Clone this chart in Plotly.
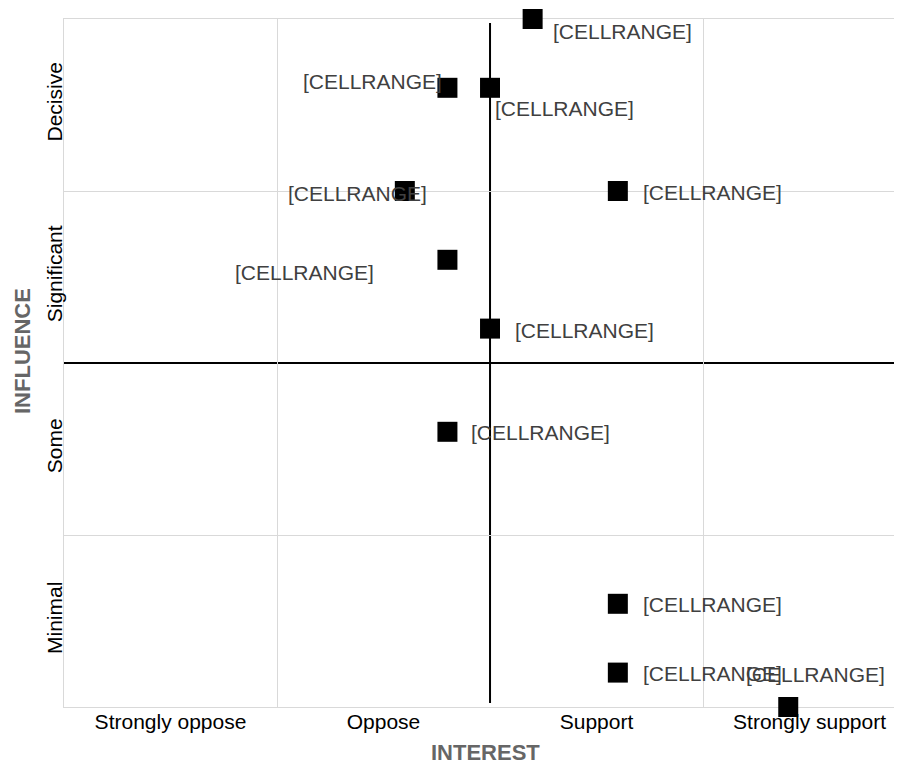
import plotly.graph_objects as go

# ---- data ----
interest_labels = ["Strongly oppose", "Oppose", "Support", "Strongly support"]
influence_labels = ["Minimal", "Some", "Significant", "Decisive"]
interest = [2.2, 1.8, 2.0, 1.6, 2.6, 1.8, 2.0, 1.8, 2.6, 2.6, 3.4]
influence = [4.0, 3.6, 3.6, 3.0, 3.0, 2.6, 2.2, 1.6, 0.6, 0.2, 0.0]
point_labels = ["[CELLRANGE]"] * 11

# ---- label placement (style): anchor, x shift px, y shift px (down positive) ----
label_place = [
    ("left", 18, 12), ("right", -3, -6), ("left", 3, 21), ("center", -47, 2),
    ("left", 23, 1), ("center", -143, 13), ("left", 23, 2), ("left", 22, 1),
    ("left", 23, 1), ("left", 23, 1), ("center", 27, -33),
]

FONT = "Arial, Liberation Sans, sans-serif"
GRID = "#d9d9d9"

fig = go.Figure()
fig.add_trace(go.Scatter(
    x=interest, y=influence, mode="markers",
    marker=dict(symbol="square", size=20, color="black", line=dict(width=0)),
    cliponaxis=False, hoverinfo="skip", showlegend=False,
))

# crossing axis lines
fig.add_shape(type="line", xref="x", yref="y", x0=2, x1=2, y0=0.023, y1=3.977,
              line=dict(color="black", width=2), layer="below")
fig.add_shape(type="line", xref="x", yref="y", x0=0, x1=4, y0=2, y1=2,
              line=dict(color="black", width=2), layer="below")

for xv, yv, txt, (anc, dx, dy) in zip(interest, influence, point_labels, label_place):
    fig.add_annotation(x=xv, y=yv, xref="x", yref="y", text=txt, showarrow=False,
                       xanchor=anc, yanchor="middle", xshift=dx, yshift=-dy,
                       font=dict(family=FONT, size=21, color="#404040"))

# axis titles
fig.add_annotation(text="<b>INTEREST</b>", xref="paper", yref="paper",
                   x=(485 - 64) / 838, y=-(752 - 707) / 688, showarrow=False,
                   xanchor="center", yanchor="middle", borderpad=0,
                   font=dict(family=FONT, size=22, color="#666666"))
fig.add_annotation(text="<b>INFLUENCE</b>", xref="paper", yref="paper",
                   x=-(64 - 22) / 838, y=(707 - 351) / 688, showarrow=False,
                   xanchor="center", yanchor="middle", textangle=-90,
                   font=dict(family=FONT, size=22, color="#666666"))

fig.update_layout(
    width=894, height=755,
    margin=dict(l=56, r=0, t=11, b=56),
    paper_bgcolor="white", plot_bgcolor="white",
    font=dict(family=FONT, size=21, color="black"),
    xaxis=dict(
        range=[0, 3.934], tickmode="array",
        tickvals=[0.5, 1.5, 2.5, 3.5], ticktext=interest_labels,
        showgrid=False, zeroline=False, ticks="",
        ticklabelstandoff=-4,
        showline=True, mirror=True, linecolor=GRID, linewidth=1,
        layer="below traces",
        minor=dict(tickmode="array", tickvals=[1, 3], showgrid=True,
                   gridcolor=GRID, gridwidth=1, ticks=""),
        tickfont=dict(family=FONT, size=21, color="black"),
        fixedrange=True,
    ),
    yaxis=dict(
        range=[0, 4], tickmode="array",
        tickvals=[0.5, 1.5, 2.5, 3.5], ticktext=influence_labels,
        tickangle=-90,
        showgrid=False, zeroline=False, ticks="",
        ticklabelstandoff=-7,
        showline=True, mirror=False, linecolor=GRID, linewidth=1,
        layer="below traces",
        minor=dict(tickmode="array", tickvals=[1, 3], showgrid=True,
                   gridcolor=GRID, gridwidth=1, ticks=""),
        tickfont=dict(family=FONT, size=21, color="black"),
        fixedrange=True,
    ),
)

fig.write_html("out.html")
